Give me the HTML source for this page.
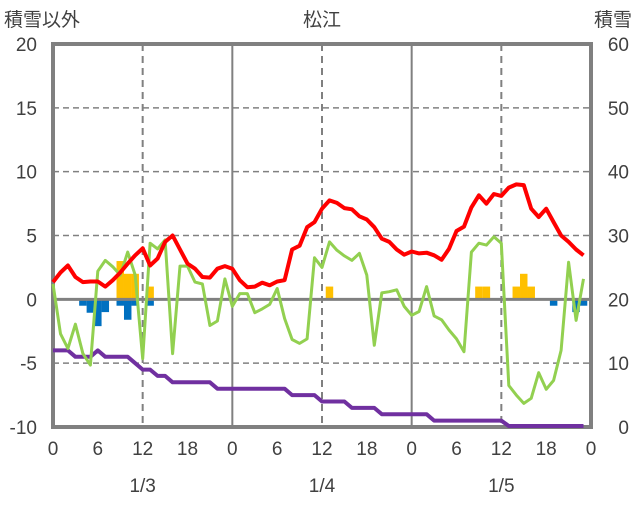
<!DOCTYPE html>
<html><head><meta charset="utf-8"><style>
body{margin:0;background:#fff;}
svg text{font-family:"Liberation Sans","Noto Sans CJK JP",sans-serif;fill:#404040;}
</style></head><body>
<svg id="chart" width="636" height="501" viewBox="0 0 636 501" xmlns="http://www.w3.org/2000/svg">
<text x="4" y="26" font-size="19">積雪以外</text>
<text x="322" y="26" font-size="19" text-anchor="middle">松江</text>
<text x="632" y="26" font-size="19" text-anchor="end">積雪</text>
<g id="grid"></g><g id="bars"></g><g id="axes"></g><g id="lines"></g>
</svg>
<script>
const hours = Array.from({length:72},(_,i)=>i);
const temperature = [1.35,2.1,2.65,1.75,1.35,1.4,1.4,1.0,1.5,2.1,2.8,3.45,4.0,2.65,3.2,4.5,5.0,3.9,2.8,2.4,1.75,1.7,2.4,2.6,
2.4,1.5,0.95,1.0,1.3,1.1,1.4,1.5,3.9,4.2,5.65,6.05,7.1,7.75,7.55,7.15,7.05,6.5,6.25,5.65,4.75,4.5,3.9,3.5,
3.75,3.6,3.65,3.45,3.1,3.95,5.35,5.7,7.2,8.15,7.5,8.25,8.1,8.75,9.0,8.95,7.1,6.45,7.1,6.05,5.0,4.5,3.9,3.45];
const greenSeries = [1.2,-2.7,-3.85,-1.95,-4.25,-5.15,2.2,3.05,2.55,1.9,3.7,1.9,-4.65,4.4,3.95,4.65,-4.25,2.6,2.6,1.35,1.2,-2.05,-1.7,1.6,
-0.55,0.45,0.45,-1.05,-0.75,-0.4,0.85,-1.5,-3.15,-3.45,-3.1,3.25,2.5,4.5,3.85,3.4,3.05,3.6,1.9,-3.6,0.5,0.6,0.75,-0.55,
-1.25,-0.95,1.0,-1.3,-1.6,-2.4,-3.1,-4.1,3.7,4.4,4.25,4.9,4.4,-6.75,-7.5,-8.15,-7.75,-5.75,-7.05,-6.35,-4.0,2.9,-1.65,1.6];
const snowDepth = [12,12,12,11,11,11,12,11,11,11,11,10,9,9,8,8,7,7,7,7,7,7,6,6,
6,6,6,6,6,6,6,6,5,5,5,5,4,4,4,4,3,3,3,3,2,2,2,2,
2,2,2,1,1,1,1,1,1,1,1,1,1,0,0,0,0,0,0,0,0,0,0,0];
const precipHours = [9,10,11,13,37,57,58,62,63,64];
const precipValues = [3,2,2,1,1,1,1,1,2,1];
const blueHours = [0,4,5,6,7,9,10,11,13,67,70,71];
const blueValues = [-0.5,-0.5,-1.05,-2.1,-1.0,-0.5,-1.6,-0.5,-0.5,-0.5,-1.0,-0.5];
const leftTicks = [20,15,10,5,0,-5,-10];
const rightTicks = [60,50,40,30,20,10,0];
const xTickLabels = [0,6,12,18,0,6,12,18,0,6,12,18,0];
const dateLabels = ["1/3","1/4","1/5"];

const X0=53,X1=591,Y0=44,Y1=427;
const ns="http://www.w3.org/2000/svg";
const xs=h=>X0+(X1-X0)*h/72;
const yl=v=>Y0+(Y1-Y0)*(20-v)/30;
const yr=v=>Y0+(Y1-Y0)*(60-v)/60;
function mk(tag,parent,attrs){const e=document.createElementNS(ns,tag);for(const k in attrs)e.setAttribute(k,attrs[k]);document.getElementById(parent).appendChild(e);return e;}

[15,10,5,-5].forEach(v=>{const l=mk('line','grid',{x1:X0,x2:X1,y1:yl(v),y2:yl(v),stroke:'#808080','stroke-width':1.5,'stroke-dasharray':'6,4'});

});
for(let h=12;h<72;h+=12){const day=h%24===0;const l=mk('line','grid',{x1:xs(h),x2:xs(h),y1:Y0,y2:Y1,stroke:'#808080','stroke-width':2,'stroke-dasharray':day?'none':'7,5'});

}

const bw=(X1-X0)/72;
precipHours.forEach((h,i)=>{const v=precipValues[i];const r=mk('rect','bars',{x:xs(h)-bw/2,y:yl(v),width:bw,height:yl(0)-yl(v),fill:'#FFC000'});

});
blueHours.forEach((h,i)=>{const v=blueValues[i];const x=Math.max(X0,xs(h)-bw/2);const r=mk('rect','bars',{x:x,y:yl(0),width:xs(h)+bw/2-x,height:yl(v)-yl(0),fill:'#0070C0'});

});
const zl=mk('line','bars',{x1:X0,x2:X1,y1:yl(0),y2:yl(0),stroke:'#808080','stroke-width':3});



const fr=mk('rect','axes',{x:X0,y:Y0,width:X1-X0,height:Y1-Y0,fill:'none',stroke:'#808080','stroke-width':4});


leftTicks.forEach(v=>{const t=mk('text','axes',{x:37,y:yl(v)+7,'font-size':19,'text-anchor':'end'});t.textContent=v;

});
rightTicks.forEach(v=>{const t=mk('text','axes',{x:629,y:yr(v)+7,'font-size':19,'text-anchor':'end'});t.textContent=v;

});
xTickLabels.forEach((v,i)=>{const t=mk('text','axes',{x:xs(i*6),y:455,'font-size':19,'text-anchor':'middle'});t.textContent=v;

});
dateLabels.forEach((v,i)=>{const t=mk('text','axes',{x:xs(12+24*i),y:492,'font-size':19,'text-anchor':'middle'});t.textContent=v;

});

function path(vals,f,color,name,w){const d=vals.map((v,i)=>(i?'L':'M')+xs(hours[i]).toFixed(1)+','+Math.min(f(v),Y1-1).toFixed(1)).join('');
const p=mk('path','lines',{d:d,fill:'none',stroke:color,'stroke-width':w,'stroke-linejoin':'round'});

}
path(snowDepth,yr,'#7030A0','snow-depth-line',4);
path(greenSeries,yl,'#92D050','green-line',3);
path(temperature,yl,'#FF0000','temperature-line',4);
</script>
</body></html>
